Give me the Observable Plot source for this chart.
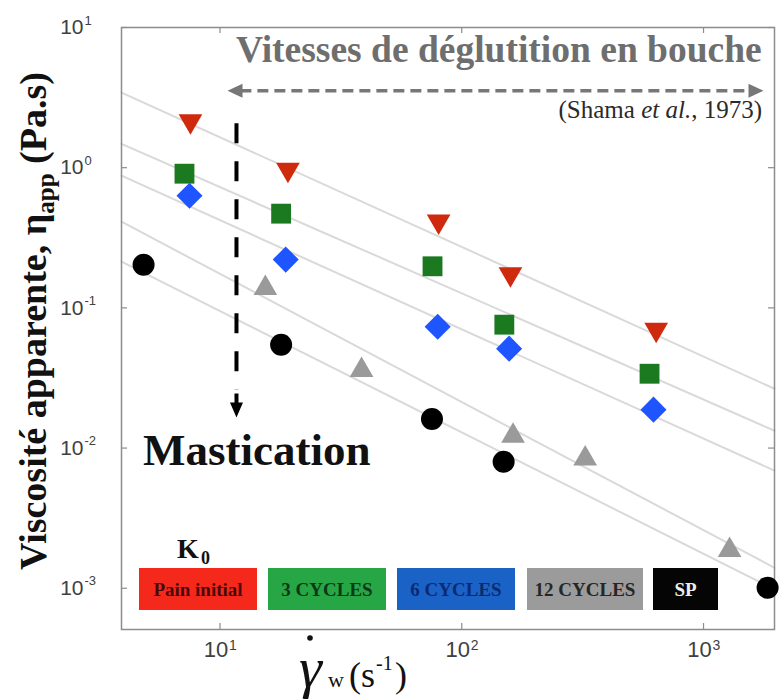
<!DOCTYPE html>
<html>
<head>
<meta charset="utf-8">
<script src="https://cdn.jsdelivr.net/npm/d3@7"></script>
<script src="https://cdn.jsdelivr.net/npm/@observablehq/plot@0.6"></script>
<style>
html,body{margin:0;padding:0;background:#fff;}
</style>
</head>
<body>
<div id="chart"></div>
<script>
// ---------------- data ----------------
const seriesNames = ["Pain initial", "3 CYCLES", "6 CYCLES", "12 CYCLES", "SP"];

const painInitialX = [7.55, 19.1, 80.2, 159, 637];
const painInitialY = [2.15, 0.968, 0.415, 0.174, 0.070];
const cycles3X = [7.13, 17.9, 75.7, 150, 598];
const cycles3Y = [0.906, 0.470, 0.198, 0.0759, 0.0339];
const cycles6X = [7.48, 18.7, 79.5, 157, 621];
const cycles6Y = [0.631, 0.221, 0.0734, 0.0512, 0.0188];
const cycles12X = [15.4, 38.5, 163, 324, 1282];
const cycles12Y = [0.138, 0.0359, 0.0122, 0.0084, 0.00187];
const spX = [4.83, 17.9, 75.3, 149, 1841];
const spY = [0.203, 0.0546, 0.0161, 0.0080, 0.00101];

// power-law fit lines, read where they meet the left and right edges of the frame
const fitX = [3.914, 1966];
const fitLeftY = [3.43, 1.48, 0.877, 0.412, 0.214];
const fitRightY = [0.0265, 0.0133, 0.0069, 0.0014, 0.00098];

const xTicks = [10, 100, 1000];
const xTickExponents = ["1", "2", "3"];
const yTicks = [10, 1, 0.1, 0.01, 0.001];
const yTickExponents = ["1", "0", "-1", "-2", "-3"];

const xDomain = [3.914, 1966];
const yDomain = [5.08e-4, 10];

// annotation anchors (data coordinates)
const swallowArrowY = 3.54;
const swallowArrowX = [12.2, 1565];
const swallowArrowTips = [10.74, 1770];
const masticationX = 11.7;
const masticationY = [2.06, 0.026];
const masticationTipY = 0.0165;

// ---------------- styles ----------------
const serif = "'Liberation Serif', 'Times New Roman', serif";
const sans = "'Liberation Sans', Arial, sans-serif";
const markerStyle = [
  {symbol: "triangle", rotate: 180, fill: "#d02a0e", r: 8.8},
  {symbol: "square", rotate: 0, fill: "#1b7a1f", r: 11.2},
  {symbol: "square", rotate: 45, fill: "#1f55ff", r: 10.4},
  {symbol: "triangle", rotate: 0, fill: "#9a9a9a", r: 8.8},
  {symbol: "circle", rotate: 0, fill: "#000000", r: 11}
];
const legendFill = ["#f5291b", "#27a646", "#1a62c6", "#9b9b9b", "#050505"];
const legendText = ["#4a0808", "#0d3a16", "#0b2a72", "#262626", "#eeeeee"];

const seriesX = [painInitialX, cycles3X, cycles6X, cycles12X, spX];
const seriesY = [painInitialY, cycles3Y, cycles6Y, cycles12Y, spY];

const points = seriesNames.flatMap((s, i) =>
  seriesX[i].map((x, j) => ({series: s, k: i, x, y: seriesY[i][j]})));
const fits = seriesNames.flatMap((s, i) => [
  {series: s, x: fitX[0], y: fitLeftY[i]},
  {series: s, x: fitX[1], y: fitRightY[i]}
]);

// custom arrow-head symbols (tip at the anchor point)
const headLeft = {draw(c) { c.moveTo(0, 0); c.lineTo(15, -7); c.lineTo(15, 7); c.closePath(); }};
const headRight = {draw(c) { c.moveTo(0, 0); c.lineTo(-15, -7); c.lineTo(-15, 7); c.closePath(); }};
const headDown = {draw(c) {
  c.moveTo(0, 0); c.lineTo(-6.5, -15); c.lineTo(-2, -15); c.lineTo(-2, -24);
  c.lineTo(2, -24); c.lineTo(2, -15); c.lineTo(6.5, -15); c.closePath();
}};

function annotations(index, scales, values, dimensions, context) {
  const NS = "http://www.w3.org/2000/svg";
  const doc = (context && context.document) || document;
  const g = doc.createElementNS(NS, "g");
  g.setAttribute("text-anchor", "start");
  function el(tag, attrs, parent = g) {
    const e = doc.createElementNS(NS, tag);
    for (const k in attrs) e.setAttribute(k, attrs[k]);
    parent.appendChild(e);
    return e;
  }
  function txt(str, attrs, parent = g) {
    const t = el("text", Object.assign({"text-anchor": "start"}, attrs), parent);
    t.textContent = str; return t;
  }
  function span(parent, str, attrs = {}) { const t = el("tspan", attrs, parent); t.textContent = str; return t; }

  // Y axis title
  const yl = el("text", {transform: "translate(46,321) rotate(-90)", "text-anchor": "middle",
    "font-family": serif, "font-weight": "bold", "font-size": 38, fill: "#111"});
  span(yl, "Viscosité apparente, η");
  span(yl, "app", {"font-size": 25, dy: 8});
  span(yl, " (Pa.s)", {dy: -8});

  // X axis title
  txt("γ", {x: 299, y: 687, "font-family": serif, "font-style": "italic", "font-size": 58, fill: "#111"});
  el("circle", {cx: 310, cy: 638, r: 2.8, fill: "#111"});
  txt("w", {x: 328, y: 687, "font-family": serif, "font-size": 22, fill: "#111"});
  txt("(s", {x: 349, y: 687, "font-family": serif, "font-size": 36, fill: "#111"});
  txt("-1", {x: 376, y: 670, "font-family": serif, "font-size": 20, fill: "#111"});
  txt(")", {x: 395, y: 687, "font-family": serif, "font-size": 36, fill: "#111"});

  // top annotation
  txt("Vitesses de déglutition en bouche", {x: 236, y: 62, "font-family": serif, "font-weight": "bold",
    "font-size": 37.5, fill: "#6e6e6e"});
  const ref = el("text", {x: 762, y: 118, "text-anchor": "end", "font-family": serif, "font-size": 25, fill: "#2a2a2a"});
  span(ref, "(Shama ");
  span(ref, "et al.", {"font-style": "italic"});
  span(ref, ", 1973)");

  // Mastication
  txt("Mastication", {x: 143, y: 465, "font-family": serif, "font-weight": "bold", "font-size": 45, fill: "#111"});

  // K0
  txt("K", {x: 177, y: 558, "font-family": serif, "font-weight": "bold", "font-size": 28, fill: "#111"});
  txt("0", {x: 201, y: 564, "font-family": serif, "font-weight": "bold", "font-size": 18, fill: "#111"});

  // legend boxes
  const bx = [139, 268, 397, 527, 653];
  const bw = [118, 118, 118, 116, 65];
  seriesNames.forEach((s, i) => {
    el("rect", {x: bx[i], y: 568, width: bw[i], height: 42, fill: legendFill[i]});
    txt(s, {x: bx[i] + bw[i] / 2, y: 596, "text-anchor": "middle", "font-family": serif,
      "font-weight": "bold", "font-size": 19, fill: legendText[i]});
  });
  return g;
}

const marks = [
  Plot.line(fits, {x: "x", y: "y", z: "series", stroke: "#d9d9d9", strokeWidth: 2}),
  Plot.frame({stroke: "#8c8c8c", strokeWidth: 1.5}),
  // inward ticks on all four sides
  Plot.tickY(yTicks, {y: d => d, insetRight: 647, stroke: "#8c8c8c", strokeWidth: 1.2}),
  Plot.tickY(yTicks, {y: d => d, insetLeft: 647, stroke: "#8c8c8c", strokeWidth: 1.2}),
  Plot.tickX(xTicks, {x: d => d, insetTop: 596, stroke: "#8c8c8c", strokeWidth: 1.2}),
  Plot.tickX(xTicks, {x: d => d, insetBottom: 596, stroke: "#8c8c8c", strokeWidth: 1.2}),
  // tick labels
  Plot.text(xTicks, {x: d => d, frameAnchor: "bottom", text: () => "10", dy: 27, dx: -4,
    fontSize: 22, fontFamily: sans, fill: "#404040"}),
  Plot.text(xTicks, {x: d => d, frameAnchor: "bottom", text: (d, i) => xTickExponents[i], dy: 20, dx: 9,
    textAnchor: "start", fontSize: 14, fontFamily: sans, fill: "#404040"}),
  Plot.text(yTicks, {y: d => d, frameAnchor: "left", text: () => "10", dx: -38, textAnchor: "end",
    fontSize: 21, fontFamily: sans, fill: "#404040"}),
  Plot.text(yTicks, {y: d => d, frameAnchor: "left", text: (d, i) => yTickExponents[i], dx: -37, dy: -7,
    textAnchor: "start", fontSize: 13, fontFamily: sans, fill: "#404040"}),
  // swallowing-rate double arrow
  Plot.ruleY([swallowArrowY], {x1: swallowArrowX[0], x2: swallowArrowX[1], stroke: "#777",
    strokeWidth: 3.5, strokeDasharray: "11,6"}),
  Plot.dot([0], {x: () => swallowArrowTips[0], y: () => swallowArrowY, symbol: headLeft, fill: "#777", stroke: "none"}),
  Plot.dot([0], {x: () => swallowArrowTips[1], y: () => swallowArrowY, symbol: headRight, fill: "#777", stroke: "none"}),
  // mastication arrow
  Plot.ruleX([masticationX], {y1: masticationY[0], y2: masticationY[1], stroke: "#000",
    strokeWidth: 4, strokeDasharray: "20,18"}),
  Plot.dot([0], {x: () => masticationX, y: () => masticationTipY, symbol: headDown, fill: "#000", stroke: "none"}),
  // data markers
  ...markerStyle.map((m, i) => Plot.dot(points.filter(p => p.k === i), {
    x: "x", y: "y", symbol: m.symbol, rotate: m.rotate, r: m.r, fill: m.fill, stroke: "none"
  })),
  annotations
];

const chart = Plot.plot({
  width: 779,
  height: 699,
  marginLeft: 121,
  marginRight: 5,
  marginTop: 27,
  marginBottom: 70,
  x: {type: "log", domain: xDomain, axis: null},
  y: {type: "log", domain: yDomain, axis: null},
  style: {background: "#ffffff"},
  marks
});
document.getElementById("chart").appendChild(chart);
</script>
</body>
</html>
